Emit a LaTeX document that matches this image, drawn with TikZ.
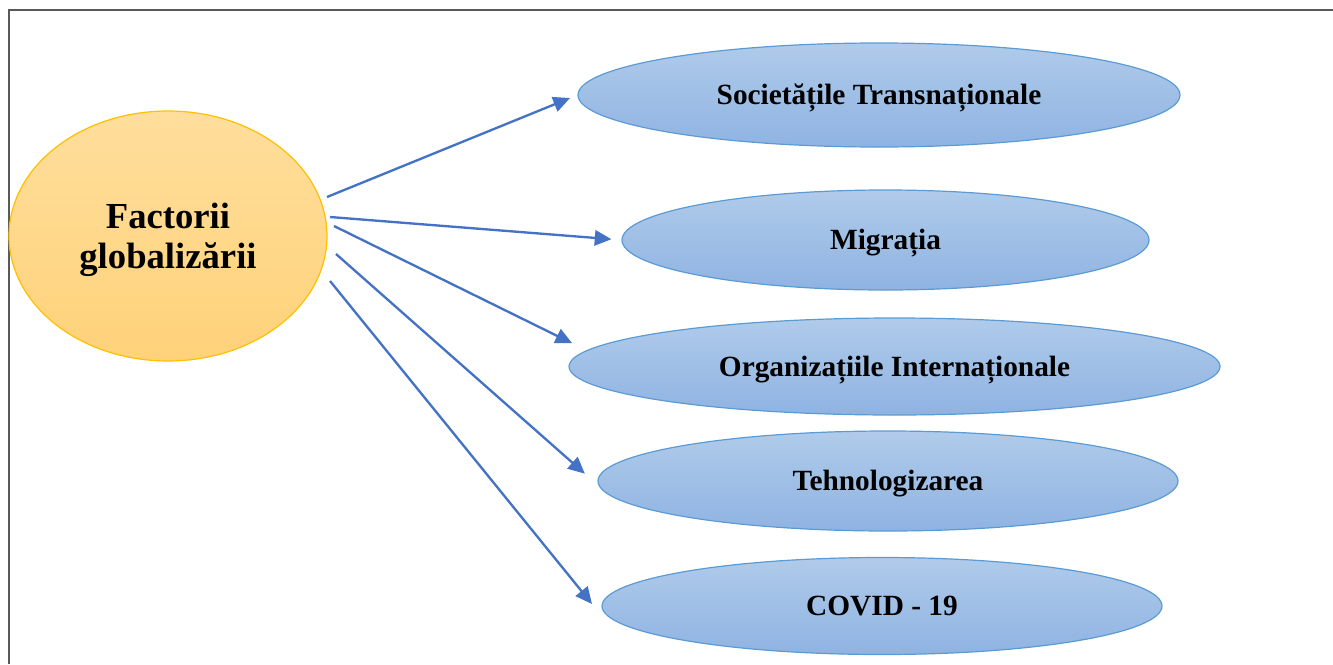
\documentclass[tikz,border=0pt]{standalone}
\usepackage{fontspec}
\setmainfont{Liberation Serif}
\usetikzlibrary{arrows.meta,shapes.geometric}

\definecolor{orangetop}{HTML}{FFDE9C}
\definecolor{orangebot}{HTML}{FFD27A}
\definecolor{orangeline}{HTML}{FFC000}
\definecolor{bluetop}{HTML}{B0CBEA}
\definecolor{bluebot}{HTML}{8FB3E2}
\definecolor{blueline}{HTML}{5B9BD5}
\definecolor{arrowblue}{HTML}{4472C4}
\definecolor{framegray}{HTML}{595959}

\tikzset{every picture/.style={line width=0.75pt}}
\tikzset{
  factor/.style={ellipse, inner sep=0pt, draw=orangeline, line width=0.9pt,
    top color=orangetop, bottom color=orangebot, align=center,
    text depth=0pt, font=\fontsize{27.5}{30}\selectfont\bfseries},
  item/.style={ellipse, inner sep=0pt, draw=blueline, line width=0.9pt,
    top color=bluetop, bottom color=bluebot,
    text height=14.5pt, text depth=0pt,
    font=\fontsize{22}{26}\selectfont\bfseries},
  arr/.style={draw=arrowblue, line width=1.75pt,
    -{Triangle[length=12.5pt,width=11.5pt]}}
}

\begin{document}
\begin{tikzpicture}[x=0.75pt,y=0.75pt,yscale=-1,xscale=1]
\useasboundingbox (0,0) rectangle (1333,664);

%Frame
\draw [color=framegray, line width=1.6pt] (9,664) -- (9,10) -- (1333,10) ;

%Shape: Ellipse
\node (fact) at (168,236) [factor, minimum width=238.5pt, minimum height=187.5pt] {Factorii\\globalizării};
%Shape: Ellipse
\node (soc) at (879,95) [item, minimum width=451.5pt, minimum height=78pt] {Societățile Transnaționale};
%Shape: Ellipse
\node (mig) at (885.5,240) [item, minimum width=395.25pt, minimum height=75pt] {Migrația};
%Shape: Ellipse
\node (org) at (894.5,366.5) [item, minimum width=488.25pt, minimum height=72.75pt] {Organizațiile Internaționale};
%Shape: Ellipse
\node (tech) at (888,481) [item, minimum width=435pt, minimum height=75pt] {Tehnologizarea};
%Shape: Ellipse
\node (cov) at (882,606) [item, minimum width=420pt, minimum height=72.75pt] {COVID - 19};

%Arrow ends
\coordinate (s1) at (327,197);
\coordinate (s2) at (330,217);
\coordinate (s3) at (334,226);
\coordinate (s4) at (336,254);
\coordinate (s5) at (330,281);
\coordinate (t5) at (592,604);

%Straight Lines
\draw [arr, shorten >=6pt] (s1) -- (soc.west) ;
%Straight Lines
\draw [arr, shorten >=7.5pt] (s2) -- (mig.west) ;
%Straight Lines
\draw [arr, shorten >=12pt] (s3) -- (org.177) ;
%Straight Lines
\draw [arr, shorten >=14pt] (s4) -- (tech.181) ;
%Straight Lines
\draw [arr] (s5) -- (t5) ;

\end{tikzpicture}
\end{document}
